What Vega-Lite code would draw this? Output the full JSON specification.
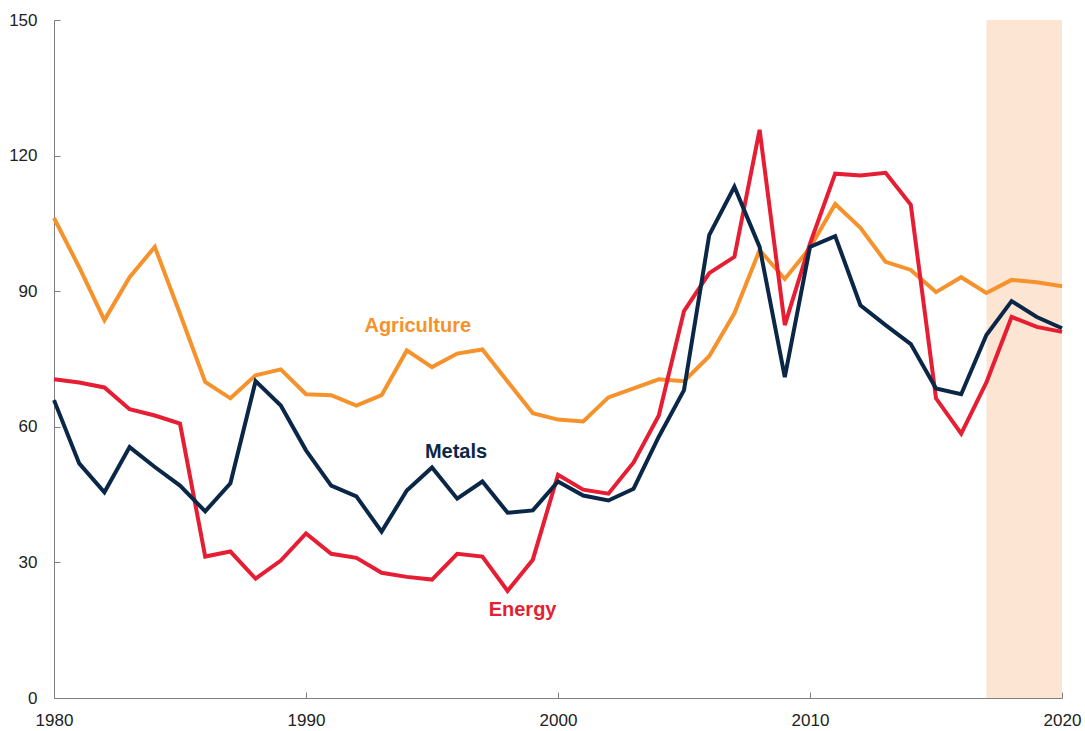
{
  "$schema": "https://vega.github.io/schema/vega-lite/v6.json",
  "width": 1008,
  "height": 678,
  "autosize": {"type": "none"},
  "padding": {"left": 54, "top": 20, "right": 23, "bottom": 33},
  "background": "white",
  "config": {
    "view": {"stroke": null},
    "font": "Liberation Sans",
    "axis": {
      "grid": false,
      "domainColor": "#7f7f7f",
      "domainWidth": 1,
      "tickColor": "#7f7f7f",
      "tickSize": -6,
      "labelColor": "#222222",
      "labelFont": "Liberation Sans",
      "labelFontSize": 17
    },
    "axisX": {"labelPadding": 20, "labelFlush": false, "labelOverlap": false},
    "axisY": {"labelPadding": 23}
  },
  "datasets": {
    "prices": [
      {"year": 1980, "Agriculture": 106.2, "Metals": 65.9, "Energy": 70.5},
      {"year": 1981, "Agriculture": 95.3, "Metals": 51.9, "Energy": 69.8},
      {"year": 1982, "Agriculture": 83.6, "Metals": 45.5, "Energy": 68.7},
      {"year": 1983, "Agriculture": 93.1, "Metals": 55.5, "Energy": 63.9},
      {"year": 1984, "Agriculture": 99.8, "Metals": 51.1, "Energy": 62.5},
      {"year": 1985, "Agriculture": 85.0, "Metals": 47.0, "Energy": 60.7},
      {"year": 1986, "Agriculture": 69.9, "Metals": 41.3, "Energy": 31.3},
      {"year": 1987, "Agriculture": 66.3, "Metals": 47.5, "Energy": 32.4},
      {"year": 1988, "Agriculture": 71.4, "Metals": 70.1, "Energy": 26.4},
      {"year": 1989, "Agriculture": 72.7, "Metals": 64.7, "Energy": 30.4},
      {"year": 1990, "Agriculture": 67.2, "Metals": 54.8, "Energy": 36.4},
      {"year": 1991, "Agriculture": 67.0, "Metals": 47.0, "Energy": 31.9},
      {"year": 1992, "Agriculture": 64.7, "Metals": 44.6, "Energy": 31.0},
      {"year": 1993, "Agriculture": 67.0, "Metals": 36.8, "Energy": 27.7},
      {"year": 1994, "Agriculture": 76.9, "Metals": 45.9, "Energy": 26.8},
      {"year": 1995, "Agriculture": 73.2, "Metals": 51.0, "Energy": 26.2},
      {"year": 1996, "Agriculture": 76.2, "Metals": 44.1, "Energy": 31.9},
      {"year": 1997, "Agriculture": 77.1, "Metals": 47.9, "Energy": 31.3},
      {"year": 1998, "Agriculture": 70.0, "Metals": 41.0, "Energy": 23.7},
      {"year": 1999, "Agriculture": 63.0, "Metals": 41.5, "Energy": 30.6},
      {"year": 2000, "Agriculture": 61.6, "Metals": 47.9, "Energy": 49.4},
      {"year": 2001, "Agriculture": 61.2, "Metals": 44.8, "Energy": 46.1},
      {"year": 2002, "Agriculture": 66.5, "Metals": 43.7, "Energy": 45.2},
      {"year": 2003, "Agriculture": 68.5, "Metals": 46.3, "Energy": 52.1},
      {"year": 2004, "Agriculture": 70.5, "Metals": 57.8, "Energy": 62.5},
      {"year": 2005, "Agriculture": 70.1, "Metals": 68.1, "Energy": 85.6},
      {"year": 2006, "Agriculture": 75.6, "Metals": 102.4, "Energy": 94.0},
      {"year": 2007, "Agriculture": 85.1, "Metals": 113.1, "Energy": 97.6},
      {"year": 2008, "Agriculture": 99.1, "Metals": 99.8, "Energy": 125.7},
      {"year": 2009, "Agriculture": 92.7, "Metals": 71.0, "Energy": 82.5},
      {"year": 2010, "Agriculture": 99.6, "Metals": 99.8, "Energy": 100.5},
      {"year": 2011, "Agriculture": 109.3, "Metals": 102.2, "Energy": 116.0},
      {"year": 2012, "Agriculture": 104.0, "Metals": 86.9, "Energy": 115.6},
      {"year": 2013, "Agriculture": 96.5, "Metals": 82.5, "Energy": 116.2},
      {"year": 2014, "Agriculture": 94.7, "Metals": 78.3, "Energy": 109.1},
      {"year": 2015, "Agriculture": 89.8, "Metals": 68.5, "Energy": 66.3},
      {"year": 2016, "Agriculture": 93.1, "Metals": 67.2, "Energy": 58.5},
      {"year": 2017, "Agriculture": 89.6, "Metals": 80.3, "Energy": 69.8},
      {"year": 2018, "Agriculture": 92.5, "Metals": 87.8, "Energy": 84.3},
      {"year": 2019, "Agriculture": 92.0, "Metals": 84.3, "Energy": 82.1},
      {"year": 2020, "Agriculture": 91.1, "Metals": 81.8, "Energy": 81.0}
    ],
    "shade": [{"start": 2017, "end": 2020}]
  },
  "layer": [
    {
      "data": {"name": "shade"},
      "mark": {"type": "rect", "color": "#FCE6D3"},
      "encoding": {
        "x": {"field": "start", "type": "quantitative", "title": null,
              "scale": {"domain": [1980, 2020], "nice": false, "zero": false},
              "axis": {"values": [1980, 1990, 2000, 2010, 2020], "format": "d"}},
        "x2": {"field": "end"},
        "y": {"datum": 0, "type": "quantitative", "title": null,
              "scale": {"domain": [0, 150], "nice": false},
              "axis": {"values": [0, 30, 60, 90, 120, 150]}},
        "y2": {"datum": 150}
      }
    },
    {
      "data": {"name": "prices"},
      "transform": [{"fold": ["Agriculture", "Energy", "Metals"], "as": ["series", "value"]}],
      "mark": {"type": "line", "strokeWidth": 4, "strokeJoin": "miter", "strokeCap": "butt"},
      "encoding": {
        "x": {"field": "year", "type": "quantitative", "title": null},
        "y": {"field": "value", "type": "quantitative", "title": null},
        "color": {"field": "series", "type": "nominal", "legend": null,
                  "scale": {"domain": ["Agriculture", "Energy", "Metals"],
                            "range": ["#F5922B", "#E61E33", "#0B2747"]}}
      }
    },
    {
      "data": {"name": "prices"},
      "transform": [{"filter": "datum.year == 1994"}],
      "mark": {"type": "text", "text": "Agriculture", "font": "Liberation Sans", "fontWeight": "bold", "fontSize": 20,
               "color": "#F5922B", "align": "center", "baseline": "alphabetic", "dx": 11, "dy": -18},
      "encoding": {
        "x": {"field": "year", "type": "quantitative", "title": null},
        "y": {"field": "Agriculture", "type": "quantitative", "title": null}
      }
    },
    {
      "data": {"name": "prices"},
      "transform": [{"filter": "datum.year == 1995"}],
      "mark": {"type": "text", "text": "Metals", "font": "Liberation Sans", "fontWeight": "bold", "fontSize": 20,
               "color": "#0B2747", "align": "center", "baseline": "alphabetic", "dx": 24, "dy": -9},
      "encoding": {
        "x": {"field": "year", "type": "quantitative", "title": null},
        "y": {"field": "Metals", "type": "quantitative", "title": null}
      }
    },
    {
      "data": {"name": "prices"},
      "transform": [{"filter": "datum.year == 1998"}],
      "mark": {"type": "text", "text": "Energy", "font": "Liberation Sans", "fontWeight": "bold", "fontSize": 20,
               "color": "#E61E33", "align": "center", "baseline": "alphabetic", "dx": 15, "dy": 25},
      "encoding": {
        "x": {"field": "year", "type": "quantitative", "title": null},
        "y": {"field": "Energy", "type": "quantitative", "title": null}
      }
    }
  ]
}
